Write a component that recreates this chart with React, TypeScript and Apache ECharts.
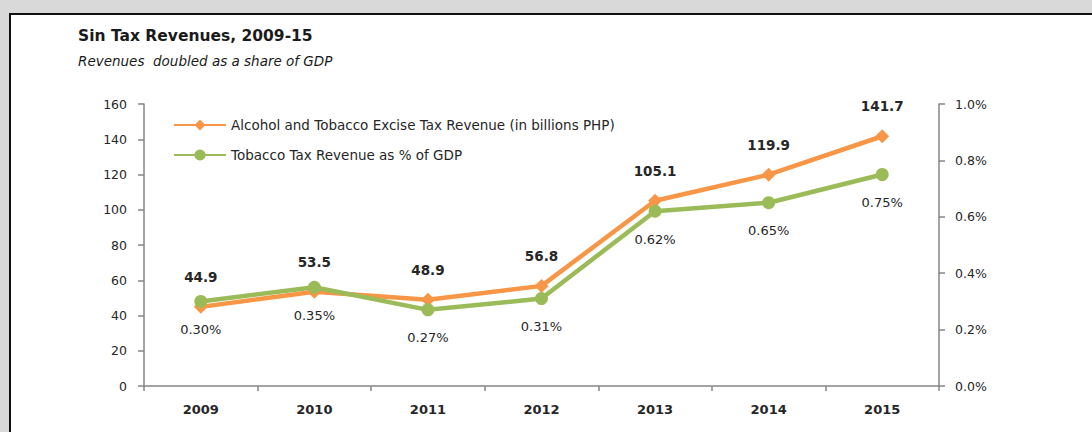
import React, { useEffect, useRef } from "react";
import * as echarts from "echarts";

const years = ["2009", "2010", "2011", "2012", "2013", "2014", "2015"];
const exciseRevenue = [44.9, 53.5, 48.9, 56.8, 105.1, 119.9, 141.7];
const taxShareGdp = [0.30, 0.35, 0.27, 0.31, 0.62, 0.65, 0.75];
const leftTicks = { min: 0, max: 160, interval: 20 };
const rightTicks = { min: 0, max: 1.0, interval: 0.2 };

const ORANGE = "#F79646";
const GREEN = "#9BBB59";
const FONT = "DejaVu Sans";

export default function App() {
  const ref = useRef<HTMLDivElement>(null);
  useEffect(() => {
    if (!ref.current) return;
    const chart = echarts.init(ref.current, null, { renderer: "svg" });
    chart.setOption({
      animation: false,
      backgroundColor: "#d9d9d9",
      graphic: [
        {
          type: "rect",
          z: -10,
          shape: { x: 10, y: 14, width: 1200, height: 600 },
          style: { fill: "#ffffff", stroke: "#111111", lineWidth: 2 },
        },
        {
          type: "text",
          left: 78,
          top: 28,
          style: {
            text: "Sin Tax Revenues, 2009-15",
            fontFamily: FONT,
            fontWeight: "bold",
            fontSize: 15.5,
            fill: "#1a1a1a",
          },
        },
        {
          type: "text",
          left: 78,
          top: 54,
          style: {
            text: "Revenues  doubled as a share of GDP",
            fontFamily: FONT,
            fontStyle: "italic",
            fontSize: 13.5,
            fill: "#1a1a1a",
          },
        },
      ],
      legend: {
        orient: "vertical",
        left: 168,
        top: 113,
        itemWidth: 52,
        itemHeight: 14,
        itemGap: 16,
        textStyle: { fontFamily: FONT, fontSize: 13.5, color: "#262626" },
        data: [
          "Alcohol and Tobacco Excise Tax Revenue (in billions PHP)",
          "Tobacco Tax Revenue as % of GDP",
        ],
      },
      grid: { left: 144, right: 153, top: 104, bottom: 46 },
      xAxis: {
        type: "category",
        data: years,
        boundaryGap: true,
        axisLine: { lineStyle: { color: "#868686", width: 1.5 } },
        axisTick: { show: true, length: 5, lineStyle: { color: "#868686", width: 1.5 } },
        axisLabel: {
          margin: 17,
          fontFamily: FONT,
          fontWeight: "bold",
          fontSize: 13,
          color: "#262626",
        },
      },
      yAxis: [
        {
          type: "value",
          min: leftTicks.min,
          max: leftTicks.max,
          interval: leftTicks.interval,
          splitLine: { show: false },
          axisLine: { show: true, lineStyle: { color: "#868686", width: 1.5 } },
          axisTick: { show: true, length: 6, lineStyle: { color: "#868686", width: 1.5 } },
          axisLabel: { margin: 17, fontFamily: FONT, fontSize: 12.5, color: "#262626" },
        },
        {
          type: "value",
          min: rightTicks.min,
          max: rightTicks.max,
          interval: rightTicks.interval,
          position: "right",
          splitLine: { show: false },
          axisLine: { show: true, lineStyle: { color: "#868686", width: 1.5 } },
          axisTick: { show: true, length: 6, lineStyle: { color: "#868686", width: 1.5 } },
          axisLabel: {
            margin: 16,
            fontFamily: FONT,
            fontSize: 12.5,
            color: "#262626",
            formatter: (v: number) => v.toFixed(1) + "%",
          },
        },
      ],
      series: [
        {
          name: "Alcohol and Tobacco Excise Tax Revenue (in billions PHP)",
          type: "line",
          yAxisIndex: 0,
          data: exciseRevenue,
          symbol: "diamond",
          symbolSize: 14,
          lineStyle: { color: ORANGE, width: 4.5 },
          itemStyle: { color: ORANGE },
          label: {
            show: true,
            position: "top",
            distance: 16,
            fontFamily: FONT,
            fontWeight: "bold",
            fontSize: 13.5,
            color: "#262626",
            formatter: (p: any) => Number(p.value).toFixed(1),
          },
        },
        {
          name: "Tobacco Tax Revenue as % of GDP",
          type: "line",
          yAxisIndex: 1,
          data: taxShareGdp,
          symbol: "circle",
          symbolSize: 13,
          lineStyle: { color: GREEN, width: 4.5 },
          itemStyle: { color: GREEN },
          label: {
            show: true,
            position: "bottom",
            distance: 15,
            fontFamily: FONT,
            fontSize: 13,
            color: "#262626",
            formatter: (p: any) => Number(p.value).toFixed(2) + "%",
          },
        },
      ],
    });
    return () => chart.dispose();
  }, []);
  return (
    <div
      ref={ref}
      style={{ position: "fixed", left: 0, top: 0, width: 1092, height: 432 }}
    />
  );
}
